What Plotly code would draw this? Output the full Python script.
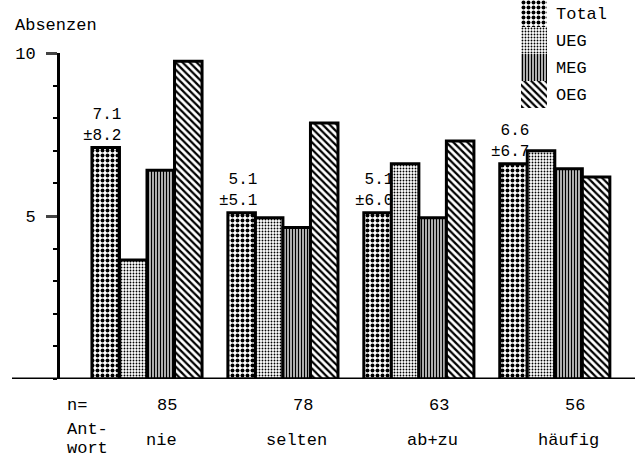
import plotly.graph_objects as go

categories = ["nie", "selten", "ab+zu", "häufig"]
n_values = ["85", "78", "63", "56"]
total = [7.1, 5.1, 5.1, 6.6]
total_sd = [8.2, 5.1, 6.0, 6.7]
ueg = [3.65, 4.95, 6.6, 7.0]
meg = [6.4, 4.65, 4.95, 6.45]
oeg = [9.75, 7.85, 7.3, 6.2]
series_names = ["Total", "UEG", "MEG", "OEG"]

FONT = "Liberation Mono"
W, H = 635, 460
ML, MR, MT, MB = 60, 0, 0, 81
PW, PH = W - ML - MR, H - MT - MB      # 575 x 379
AXIS_TOP = 53                           # pixel row of y = 10


def px(xp):
    return (xp - ML) / PW


def py(yp):
    return (PH - yp) / PH


x = list(range(len(categories)))

patterns = [
    dict(shape=".", size=5, solidity=0.5),
    dict(shape=".", size=3, solidity=0.3),
    dict(shape="|", size=3, solidity=0.55),
    dict(shape="\\", size=5, solidity=0.45),
]
values = [total, ueg, meg, oeg]

fig = go.Figure()
for name, vals, pat in zip(series_names, values, patterns):
    fig.add_trace(go.Bar(
        x=x, y=vals, name=name, showlegend=False,
        marker=dict(color="white", line=dict(color="black", width=3),
                    pattern=dict(fgcolor="black", bgcolor="white", fillmode="replace", **pat)),
    ))

# custom legend strip (contiguous swatches) on its own small axis
for name, pat in zip(series_names, patterns):
    fig.add_trace(go.Bar(
        y=[name], x=[1], orientation="h", width=1, offsetgroup="legend",
        xaxis="x2", yaxis="y2", showlegend=False, hoverinfo="skip",
        marker=dict(color="white", line=dict(width=0),
                    pattern=dict(fgcolor="black", bgcolor="white", fillmode="replace", **pat)),
    ))

txt = dict(family=FONT, size=17, color="black")

# value labels above Total bars
for i, (m, s) in enumerate(zip(total, total_sd)):
    fig.add_annotation(x=i, y=m, text=f"{m:.1f}<br>±{s:.1f}", showarrow=False,
                       xanchor="right", xshift=-24, yanchor="bottom", yshift=1, align="right",
                       font=dict(family=FONT, size=16, color="black"))

# n and answer labels
for i, (c, n) in enumerate(zip(categories, n_values)):
    fig.add_annotation(x=i, y=py(405), yref="paper", text=n, showarrow=False,
                       xanchor="center", yanchor="middle", xshift=20, font=txt)
    fig.add_annotation(x=i, y=py(440), yref="paper", text=c, showarrow=False,
                       xanchor="center", yanchor="middle", xshift=14, font=txt)

fig.add_annotation(x=px(65), xref="paper", xanchor="left", y=py(405), yref="paper",
                   yanchor="middle", text="n=", showarrow=False, font=txt)
fig.add_annotation(x=px(65), xref="paper", xanchor="left", y=py(429), yref="paper",
                   yanchor="middle", text="Ant-", showarrow=False, font=txt)
fig.add_annotation(x=px(65), xref="paper", xanchor="left", y=py(448), yref="paper",
                   yanchor="middle", text="wort", showarrow=False, font=txt)

# y title
fig.add_annotation(x=px(13), xref="paper", xanchor="left", y=py(25), yref="paper",
                   yanchor="middle", text="Absenzen", showarrow=False, font=txt)

# baseline extending left of the y axis
fig.add_shape(type="line", xref="paper", yref="y", x0=px(12), x1=1, y0=0, y1=0,
              line=dict(color="black", width=3))

fig.update_layout(
    width=W, height=H,
    margin=dict(l=ML, r=MR, t=MT, b=MB, autoexpand=False),
    paper_bgcolor="white", plot_bgcolor="white",
    barmode="group", bargap=0.19, bargroupgap=0,
    font=txt,
    showlegend=False,
    xaxis=dict(range=[-0.64, 3.59], showticklabels=False, ticks="", showline=False,
               showgrid=False, zeroline=False, domain=[0, 1]),
    yaxis=dict(range=[0, 10], domain=[0, py(AXIS_TOP)], tickvals=[5, 10], ticktext=["5", "10"],
               ticks="outside", ticklen=11, tickwidth=3, ticklabelstandoff=7,
               showline=True, linewidth=3, linecolor="black",
               showgrid=False, zeroline=False,
               minor=dict(dtick=1, ticks="outside", ticklen=4, tickwidth=2, tickcolor="black")),
    xaxis2=dict(domain=[px(521), px(547)], range=[0, 1], anchor="y2", visible=False,
                fixedrange=True),
    yaxis2=dict(domain=[py(108), 1], anchor="x2", type="category",
                categoryorder="array", categoryarray=series_names[::-1],
                side="right", ticks="", showline=False, showgrid=False, zeroline=False,
                ticklabelstandoff=8, tickfont=txt, fixedrange=True),
)

fig.write_html("out.html", config={"displayModeBar": False},
               post_script="document.body.style.margin='0';")
